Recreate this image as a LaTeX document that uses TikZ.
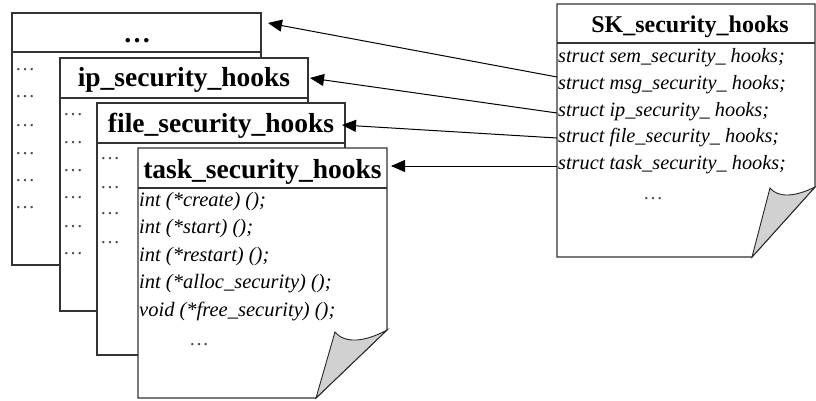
\documentclass[tikz,border=0pt]{standalone}
\usepackage{fontspec}
\setmainfont{Liberation Serif}
\usetikzlibrary{arrows.meta}
\begin{document}
\begin{tikzpicture}[x=1pt,y=-1pt,
  boxline/.style={draw=black!80,line width=1.1pt,fill=white},
  sepline/.style={draw=black!80,line width=1.1pt},
  hdr/.style={font=\fontsize{27.5}{30}\selectfont\bfseries,inner sep=0pt,anchor=base},
  skhdr/.style={font=\fontsize{24}{28}\selectfont\bfseries,inner sep=0pt,anchor=base},
  itxt/.style={font=\fontsize{20.5}{24}\selectfont\itshape,inner sep=0pt,anchor=base west},
  sktxt/.style={font=\fontsize{20.3}{24}\selectfont\itshape,inner sep=0pt,anchor=base west},
  dotsx/.style={font=\fontsize{20}{22}\selectfont,text=black!70,inner sep=0pt,anchor=base west},
  fold/.style={draw=black!85,line width=0.9pt,fill=black!18},
  link/.style={draw=black,line width=1pt,-{Triangle[length=14pt,width=12pt]}}]
\useasboundingbox (0,0) rectangle (816,401);

% Box 1
\draw[boxline] (12,13) rectangle (261,265);
\draw[sepline] (12,52) -- (261,52);
\node[hdr] (h1) at (137,43) {\ldots};
\foreach \y [count=\i] in {70,97,126,153,180,207}
  \node[dotsx] (da\i) at (15,\y+1) {\ldots};

% Box 2
\draw[boxline] (60,58) rectangle (308,311);
\draw[sepline] (60,98) -- (308,98);
\node[hdr] (h2) at (184,87) {ip\_security\_hooks};
\foreach \y [count=\i] in {115,142,170,197,226,253}
  \node[dotsx] (db\i) at (63,\y+1) {\ldots};

% Box 3
\draw[boxline] (97,103) rectangle (345,355);
\draw[sepline] (97,143) -- (345,143);
\node[hdr] (h3) at (221,132) {file\_security\_hooks};
\foreach \y [count=\i] in {158,187,213,242}
  \node[dotsx] (dc\i) at (100,\y+1) {\ldots};

% Box 4 (task)
\draw[boxline] (138,148) -- (387,148) -- (387,330) -- (316,398) -- (138,398) -- cycle;
\draw[sepline] (138,188) -- (387,188);
\draw[fold] (316,398) -- (335,332) .. controls (345,344) and (365,342) .. (387,330) -- cycle;
\node[hdr] (h4) at (262.5,178) {task\_security\_hooks};
\node[itxt] (f1) at (139,206) {int (*create) ();};
\node[itxt] (f2) at (139,233.5) {int (*start) ();};
\node[itxt] (f3) at (139,261) {int (*restart) ();};
\node[itxt] (f4) at (139,288.5) {int (*alloc\_security) ();};
\node[itxt] (f5) at (139,316) {void (*free\_security) ();};
\node[dotsx] (f6) at (189,345) {\ldots};

% SK box
\draw[boxline] (557,4) -- (815,4) -- (815,187) -- (752,257) -- (557,257) -- cycle;
\draw[sepline] (557,43) -- (815,43);
\draw[fold] (752,257) -- (770,188) .. controls (778,198) and (795,197) .. (815,187) -- cycle;
\node[skhdr] (sk) at (690,33) {SK\_security\_hooks};
\node[sktxt] (k1) at (558,62.5) {struct sem\_security\_ hooks;};
\node[sktxt] (k2) at (558,89.3) {struct msg\_security\_ hooks;};
\node[sktxt] (k3) at (558,116.1) {struct ip\_security\_ hooks;};
\node[sktxt] (k4) at (558,142.9) {struct file\_security\_ hooks;};
\node[sktxt] (k5) at (558,169.7) {struct task\_security\_ hooks;};
\node[dotsx] (k6) at (643,199) {\ldots};

% arrow endpoints
\coordinate (s1) at (557,77);  \coordinate (t1) at (268,23);
\coordinate (s2) at (557,113); \coordinate (t2) at (310,78);
\coordinate (s3) at (557,138); \coordinate (t3) at (342,125);
\coordinate (s4) at (557,166); \coordinate (t4) at (391,166);
\draw[link] (s1) -- (t1);
\draw[link] (s2) -- (t2);
\draw[link] (s3) -- (t3);
\draw[link] (s4) -- (t4);
\end{tikzpicture}
\end{document}
